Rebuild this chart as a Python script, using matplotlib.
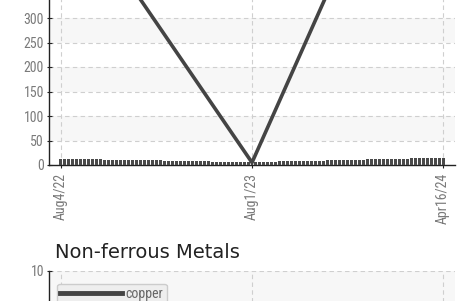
import matplotlib
matplotlib.use("Agg")
from matplotlib import pyplot as plt
from matplotlib.lines import Line2D

# data (weekly index on a category axis)
tick_pos = [0, 48, 96]
tick_labels = ["Aug4/22", "Aug1/23", "Apr16/24"]

weekly_vals = [
    12, 12, 12, 12, 12, 12, 12, 12, 12, 12, 12,
    10, 10, 10, 10, 10, 10, 10, 10, 10, 10, 10, 10, 10, 10, 10,
    8.5, 8.5, 8.5, 8.5, 8.5, 8.5, 8.5, 8.5, 8.5, 8.5, 8.5, 8.5,
    6, 6, 6, 6, 6, 6, 6, 6, 6, 6, 6, 6, 6, 6, 6, 6, 6,
    7.5, 7.5, 7.5, 7.5, 7.5, 7.5, 7.5, 7.5, 7.5, 7.5, 7.5, 7.5,
    9.5, 9.5, 9.5, 9.5, 9.5, 9.5, 9.5, 9.5, 9.5, 9.5,
    11.5, 11.5, 11.5, 11.5, 11.5, 11.5, 11.5, 11.5, 11.5, 11.5, 11.5,
    14, 14, 14, 14, 14, 14, 14, 14, 14,
]
line_x = [0, 48, 96]
line_vals = [575, 5, 880]

top_yticks = [0, 50, 100, 150, 200, 250, 300]
top_bands = [(50, 100), (150, 200), (250, 300)]
bottom_yticks = [10]
bottom_bands = [(5, 10)]

W, H = 457, 301
DARK = "#444444"
TICK_COL = "#7a7a7a"
GRID_COL = "#cfcfcf"
BAND_COL = "#f7f7f7"
TICK_FONT = ["Roboto Condensed", "Roboto", "DejaVu Sans"]


def style_axes(ax, yticks, bands, ylim):
    ax.set_xlim(-3, 99)
    ax.set_ylim(*ylim)
    for s in ("top", "right"):
        ax.spines[s].set_visible(False)
    for s in ("left", "bottom"):
        ax.spines[s].set_color("#222222")
        ax.spines[s].set_linewidth(1.0)
    for lo, hi in bands:
        ax.axhspan(lo, hi, color=BAND_COL, zorder=0, lw=0)
    ax.set_yticks(yticks)
    ax.set_xticks(tick_pos)
    ax.set_xticklabels(tick_labels, rotation=90, va="top", ha="center")
    ax.grid(True, color=GRID_COL, linestyle=(0, (4, 3)), linewidth=0.8, zorder=1)
    ax.set_axisbelow(True)
    ax.tick_params(axis="both", direction="inout", length=3.6, width=0.8,
                   color="#222222", labelcolor=TICK_COL, labelsize=10)
    ax.tick_params(axis="x", pad=4)
    ax.tick_params(axis="y", pad=1.8)
    for lab in ax.get_xticklabels() + ax.get_yticklabels():
        lab.set_family(TICK_FONT)


fig = plt.figure(figsize=(W / 100, H / 100), dpi=100)

# top chart (its upper part is cut off by the crop)
ax1 = fig.add_axes([49 / W, 136 / H, 406 / W, 171.5 / H])
style_axes(ax1, top_yticks, top_bands, (0, 350))
ax1.bar(range(len(weekly_vals)), weekly_vals, width=0.75, color="#4a4a4a", zorder=3)
ax1.plot(line_x, line_vals, color=DARK, lw=2.6, zorder=4, solid_capstyle="round")

# bottom chart
fig.text(55 / W, (H - 258) / H, "Non-ferrous Metals", fontsize=14,
         family="DejaVu Sans", color="#222222", va="baseline")
ax2 = fig.add_axes([49 / W, -90 / H, 406 / W, 120 / H])
style_axes(ax2, bottom_yticks, bottom_bands, (0, 10))
ax2.tick_params(axis="x", labelbottom=False)

handle = Line2D([], [], color=DARK, lw=3.5, label="copper")
leg = ax2.legend(handles=[handle], loc="upper left",
                 bbox_to_anchor=(57 / W, (H - 283.5) / H), bbox_transform=fig.transFigure,
                 borderaxespad=0, handlelength=4.4, handletextpad=0.3,
                 borderpad=0.25, fancybox=True, framealpha=1,
                 prop={"family": TICK_FONT, "size": 10})
leg.get_frame().set_facecolor("#eeeeee")
leg.get_frame().set_edgecolor("#cccccc")
for t in leg.get_texts():
    t.set_color("#666666")

fig.savefig("out.png", dpi=100)
